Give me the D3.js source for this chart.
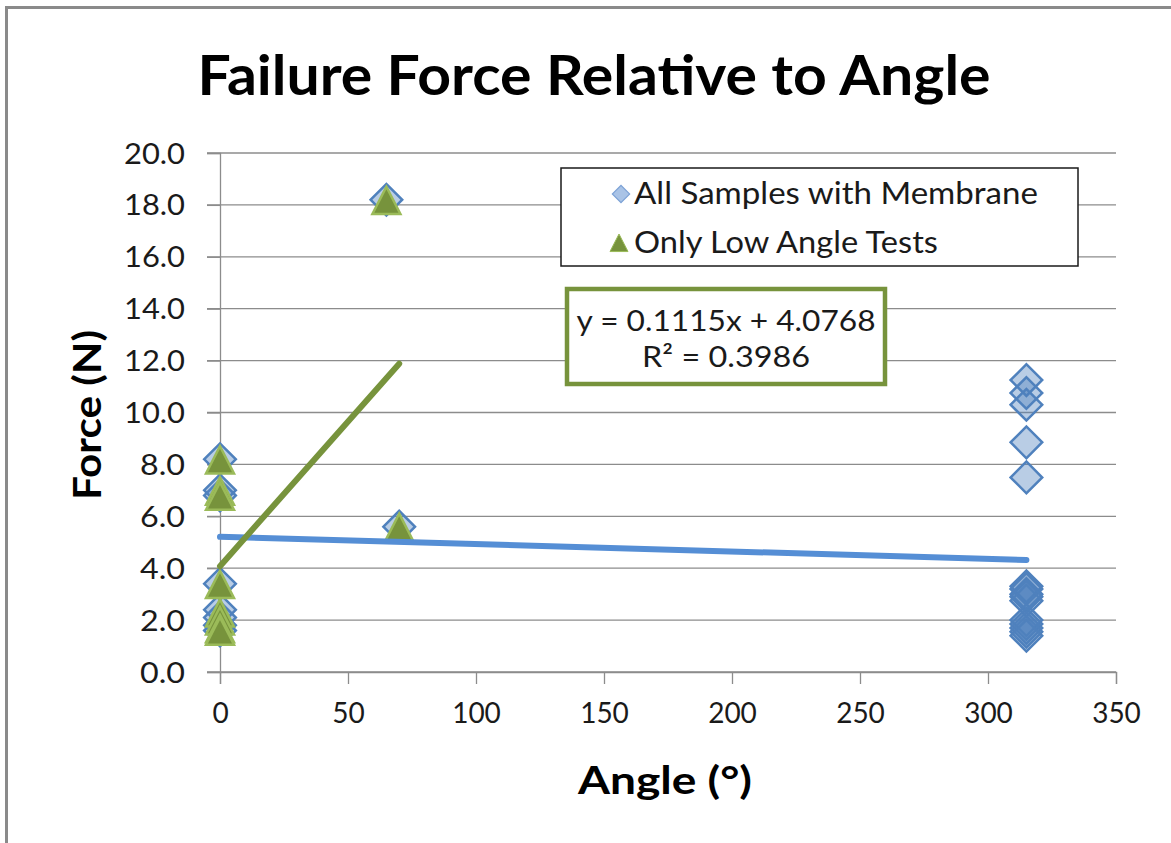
<!DOCTYPE html>
<html>
<head>
<meta charset="utf-8">
<script src="https://cdn.jsdelivr.net/npm/d3@7"></script>
<style>
  body { margin: 0; background: #fff; }
  svg { display: block; font-family: Lato, "Open Sans", sans-serif; }
</style>
</head>
<body>
<div id="chart"></div>
<script>
// data
const allX = [0, 0, 0, 0, 0, 0, 0, 0, 65, 70,
  315, 315, 315, 315, 315,
  315, 315, 315, 315, 315, 315, 315, 315, 315, 315];
const allY = [8.2, 7.0, 6.8, 3.4, 2.4, 2.1, 1.8, 1.6, 18.2, 5.6,
  11.25, 10.75, 10.3, 8.85, 7.5,
  3.3, 3.2, 3.0, 2.9, 2.75, 2.0, 1.85, 1.7, 1.55, 1.4];
const lowX = [0, 0, 0, 0, 0, 0, 0, 0, 65, 70];
const lowY = [8.2, 7.0, 6.8, 3.4, 2.3, 2.0, 1.7, 1.6, 18.2, 5.6];

// trendlines: [slope, intercept, xStart, xEnd]
const allTrend = [-0.00283, 5.21, 0, 315];
const lowTrend = [0.1115, 4.0768, 0, 70];

const xTicks = [0, 50, 100, 150, 200, 250, 300, 350];
const yTicks = [0, 2, 4, 6, 8, 10, 12, 14, 16, 18, 20];

const seriesNames = ['All Samples with Membrane', 'Only Low Angle Tests'];
const equationLines = ['y = 0.1115x + 4.0768', 'R\u00b2 = 0.3986'];

const W = 1171, H = 843;
const margin = { top: 153, right: 55, bottom: 171, left: 220 };
const width = W - margin.left - margin.right;
const height = H - margin.top - margin.bottom;

const blueStroke = '#4f81bd';
const blueFill = 'rgba(79,129,189,0.4)';
const greenFill = '#77933c';
const greenStroke = '#9bbb59';
const gridColor = '#8c8c8c';
const textColor = '#1a1a1a';

const svg = d3.select('#chart').append('svg')
  .attr('width', W)
  .attr('height', H);

// outer frame
svg.append('rect')
  .attr('x', 6.5).attr('y', 7.5)
  .attr('width', W + 20).attr('height', H + 20)
  .attr('fill', 'none')
  .attr('stroke', '#8a8a8a')
  .attr('stroke-width', 3);

svg.append('text')
  .attr('x', 594).attr('y', 95)
  .attr('text-anchor', 'middle')
  .attr('font-size', 55)
  .attr('font-weight', 'bold')
  .attr('textLength', 793)
  .attr('lengthAdjust', 'spacingAndGlyphs')
  .text('Failure Force Relative to Angle');

const chart = svg.append('g')
  .attr('transform', `translate(${margin.left},${margin.top})`);

const x = d3.scaleLinear().domain([0, 350]).range([0, width]);
const y = d3.scaleLinear().domain([0, 20]).range([height, 0]);

// horizontal gridlines (include the outside tick stub)
chart.append('g')
  .selectAll('line')
  .data(yTicks)
  .join('line')
  .attr('x1', -13).attr('x2', width)
  .attr('y1', d => y(d)).attr('y2', d => y(d))
  .attr('stroke', gridColor)
  .attr('stroke-width', 1.3);

const yAxis = chart.append('g')
  .call(d3.axisLeft(y).tickValues(yTicks).tickFormat(d3.format('.1f')).tickSize(13).tickPadding(22));
const xAxis = chart.append('g')
  .attr('transform', `translate(0,${height})`)
  .call(d3.axisBottom(x).tickValues(xTicks).tickSize(12).tickPadding(22));

[xAxis, yAxis].forEach(g => {
  g.select('.domain').attr('stroke', gridColor).attr('stroke-width', 1.3);
  g.selectAll('.tick line').attr('stroke', gridColor).attr('stroke-width', 1.3);
  g.selectAll('.tick text')
    .attr('font-family', 'Lato, "Open Sans", sans-serif')
    .attr('font-size', 28)
    .attr('fill', textColor);
});
yAxis.selectAll('.tick text')
  .attr('dy', '0.36em')
  .attr('textLength', d => d >= 10 ? 61 : 45)
  .attr('lengthAdjust', 'spacingAndGlyphs');
xAxis.selectAll('.tick text').attr('dy', '0.6em');

// axis titles
svg.append('text')
  .attr('x', 665).attr('y', 794)
  .attr('text-anchor', 'middle')
  .attr('font-size', 39)
  .attr('font-weight', 'bold')
  .attr('textLength', 174)
  .attr('lengthAdjust', 'spacingAndGlyphs')
  .text('Angle (\u00b0)');

svg.append('text')
  .attr('transform', 'translate(101,415) rotate(-90)')
  .attr('text-anchor', 'middle')
  .attr('font-size', 39)
  .attr('font-weight', 'bold')
  .attr('textLength', 170)
  .attr('lengthAdjust', 'spacingAndGlyphs')
  .text('Force (N)');

// markers
const diamond = d3.symbol().type(d3.symbolSquare).size(500);
const triPath = s => `M0,${-s}L${s},${s * 0.95}L${-s},${s * 0.95}Z`;

const allPts = allX.map((v, i) => ({ x: v, y: allY[i] }));
const lowPts = lowX.map((v, i) => ({ x: v, y: lowY[i] }));

chart.append('g')
  .selectAll('path')
  .data(allPts)
  .join('path')
  .attr('d', diamond)
  .attr('transform', d => `translate(${x(d.x)},${y(d.y)}) rotate(45)`)
  .attr('fill', blueFill)
  .attr('stroke', blueStroke)
  .attr('stroke-width', 2.5);

chart.append('g')
  .selectAll('path')
  .data(lowPts)
  .join('path')
  .attr('d', triPath(14))
  .attr('transform', d => `translate(${x(d.x)},${y(d.y) + 1})`)
  .attr('fill', greenFill)
  .attr('stroke', greenStroke)
  .attr('stroke-width', 2.5);

// trendlines
const trendLine = (t, color) => {
  const pts = [t[2], t[3]].map(v => [x(v), y(t[0] * v + t[1])]);
  chart.append('path')
    .attr('d', d3.line()(pts))
    .attr('stroke', color)
    .attr('stroke-width', 6)
    .attr('stroke-linecap', 'round')
    .attr('fill', 'none');
};
trendLine(allTrend, '#558ed5');
trendLine(lowTrend, '#77933c');

// legend
const legend = svg.append('g').attr('transform', 'translate(561,168)');
legend.append('rect')
  .attr('width', 517).attr('height', 98)
  .attr('fill', '#fff')
  .attr('stroke', textColor)
  .attr('stroke-width', 1.5);
legend.append('path')
  .attr('d', d3.symbol().type(d3.symbolSquare).size(150))
  .attr('transform', 'translate(60,26) rotate(45)')
  .attr('fill', '#a9c3e6')
  .attr('stroke', '#7ea3d6')
  .attr('stroke-width', 1.2);
legend.append('path')
  .attr('d', triPath(9))
  .attr('transform', 'translate(58,75)')
  .attr('fill', greenFill)
  .attr('stroke', greenStroke)
  .attr('stroke-width', 1);
legend.selectAll('text.lg')
  .data(seriesNames)
  .join('text')
  .attr('class', 'lg')
  .attr('x', 73)
  .attr('y', (d, i) => 36 + i * 49)
  .attr('font-size', 30)
  .attr('fill', textColor)
  .attr('textLength', (d, i) => [404, 304][i])
  .attr('lengthAdjust', 'spacingAndGlyphs')
  .text(d => d);

// trendline equation box
const eq = svg.append('g').attr('transform', 'translate(567,289)');
eq.append('rect')
  .attr('width', 318).attr('height', 95)
  .attr('fill', '#fff')
  .attr('stroke', '#77933c')
  .attr('stroke-width', 4.5);
eq.selectAll('text')
  .data(equationLines)
  .join('text')
  .attr('x', 159)
  .attr('y', (d, i) => 42 + i * 36)
  .attr('text-anchor', 'middle')
  .attr('font-size', 29)
  .attr('fill', textColor)
  .attr('textLength', (d, i) => [299, 168][i])
  .attr('lengthAdjust', 'spacingAndGlyphs')
  .text(d => d);
</script>
</body>
</html>
